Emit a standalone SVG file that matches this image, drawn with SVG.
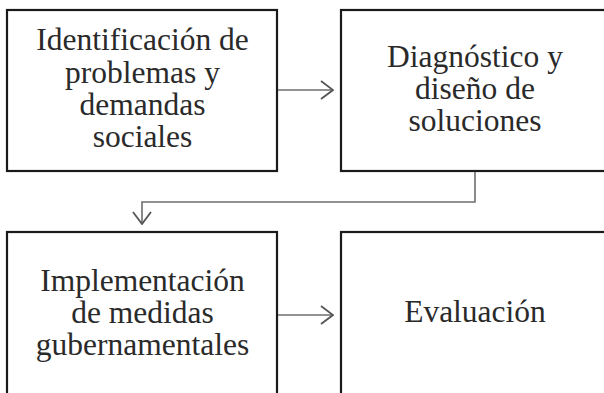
<svg xmlns="http://www.w3.org/2000/svg" width="604" height="393" viewBox="0 0 604 393">
<style>
.box{fill:#fff;stroke:#1a1a1a;stroke-width:2.2}
.t{font-family:"Liberation Serif","Times New Roman",serif;font-size:31.5px;fill:#2a2a2a;text-anchor:middle}
.c{fill:none;stroke:#6e6e6e;stroke-width:1.6}
</style>
<defs>
<marker id="ah" viewBox="0 0 14 20" refX="13" refY="10" markerWidth="14" markerHeight="20" markerUnits="userSpaceOnUse" orient="auto">
<path d="M1,1 L13,10 L1,19" fill="none" stroke="#555" stroke-width="1.8"/>
</marker>
</defs>
<rect width="604" height="393" fill="#fff"/>
<g id="n1">
<rect class="box" x="7" y="10" width="270" height="161"/>
<text class="t" x="142.5" y="50">Identificación de</text>
<text class="t" x="142.5" y="83">problemas y</text>
<text class="t" x="142.5" y="115">demandas</text>
<text class="t" x="142.5" y="147">sociales</text>
</g>
<g id="n2">
<rect class="box" x="341" y="10" width="268" height="161"/>
<text class="t" x="475" y="67">Diagnóstico y</text>
<text class="t" x="475" y="99">diseño de</text>
<text class="t" x="475" y="131">soluciones</text>
</g>
<g id="n3">
<rect class="box" x="7" y="232" width="270" height="162.5"/>
<text class="t" x="142.5" y="291">Implementación</text>
<text class="t" x="142.5" y="323">de medidas</text>
<text class="t" x="142.5" y="355">gubernamentales</text>
</g>
<g id="n4">
<rect class="box" x="341" y="232" width="268" height="162.5"/>
<text class="t" x="475" y="322">Evaluación</text>
</g>
<g id="connectors">
<path class="c" d="M278,90 H333" marker-end="url(#ah)"/>
<path class="c" d="M475,172 V202 H142 V224" marker-end="url(#ah)"/>
<path class="c" d="M278,315 H333" marker-end="url(#ah)"/>
</g>
</svg>
